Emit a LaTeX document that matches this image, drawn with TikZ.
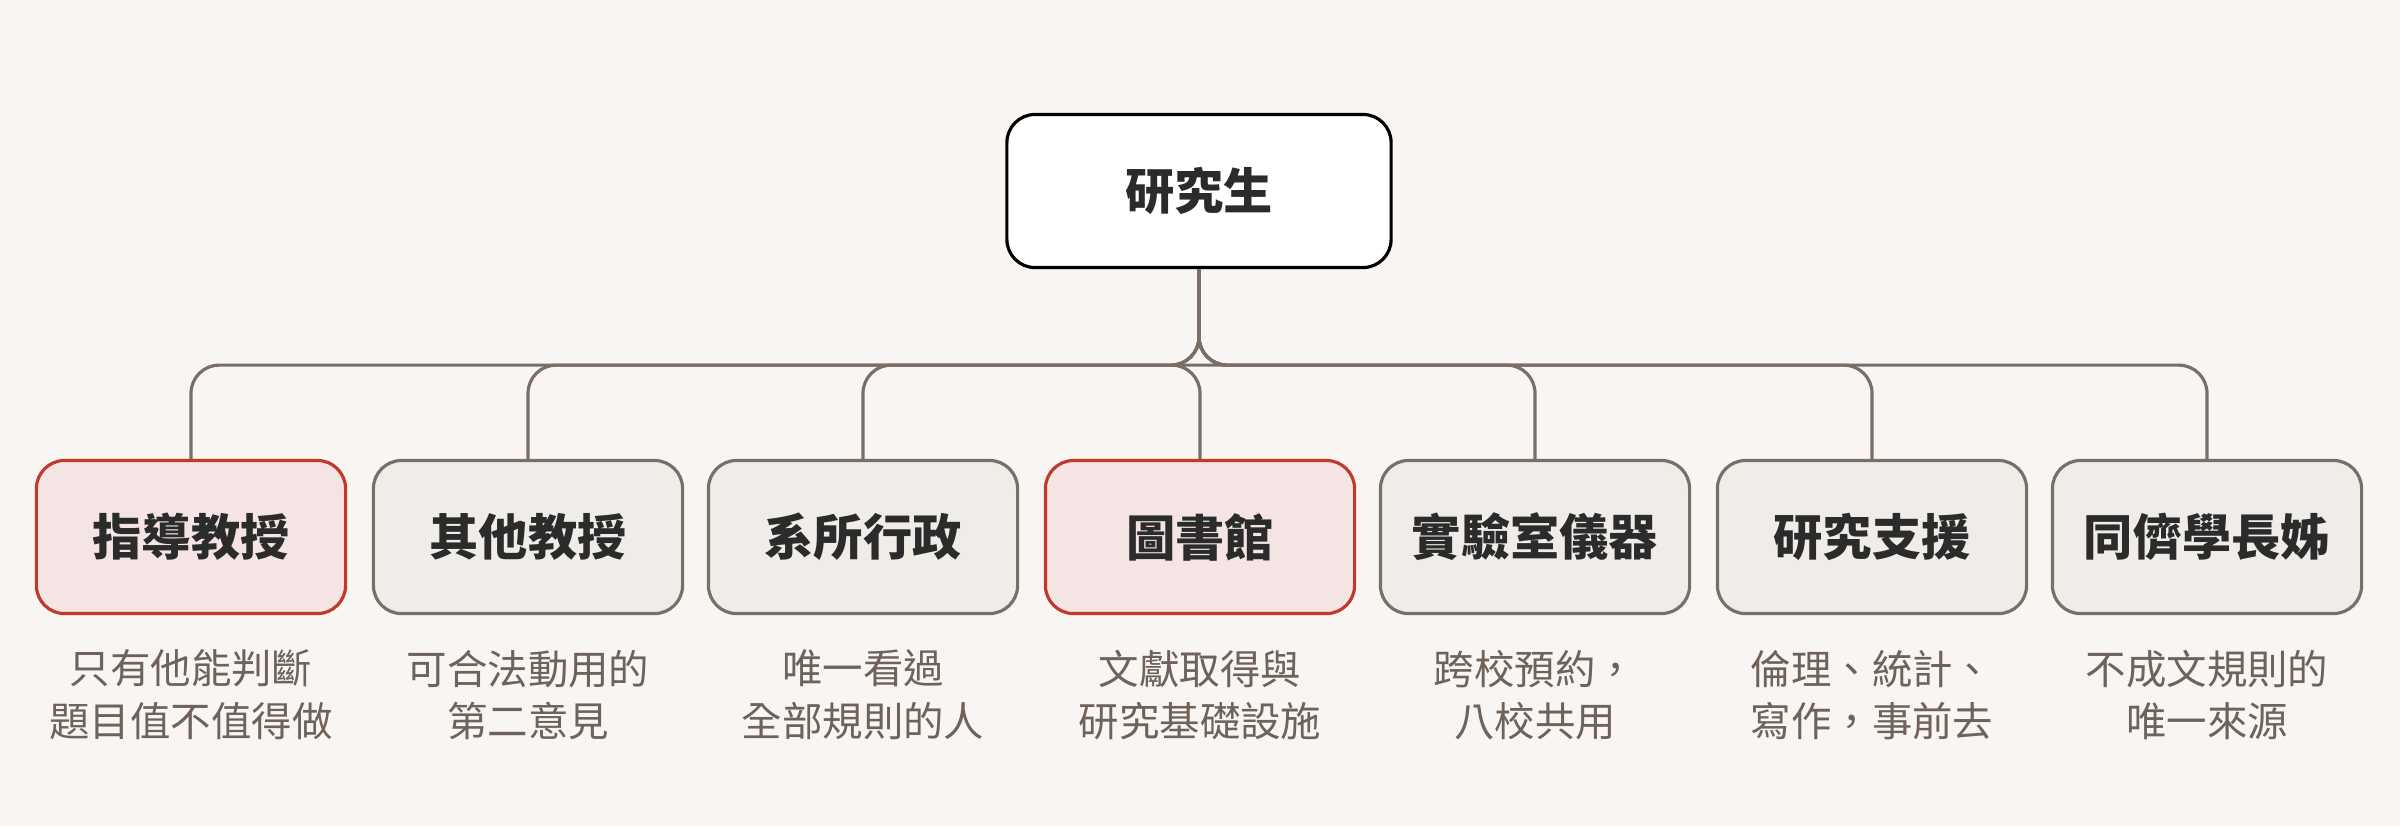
\documentclass[tikz,border=0pt]{standalone}
\usepackage{fontspec}
\setmainfont{Noto Sans CJK TC}
\usetikzlibrary{positioning}
\definecolor{bgcol}{HTML}{F8F5F2}
\definecolor{linecol}{HTML}{7A6E66}
\definecolor{grayfill}{HTML}{F0EDE8}
\definecolor{redline}{HTML}{C0392B}
\definecolor{redfill}{HTML}{F5E4E4}
\definecolor{capcol}{HTML}{6E625A}
\definecolor{txtcol}{HTML}{2B2B2B}
\begin{document}
\begin{tikzpicture}[
            x = 0.01cm, y = -0.01cm, % pixel units
            every node/.style = {inner sep = 0pt},
            box/.style = {
                draw = linecol,
                line width = 0.9pt,
                fill = grayfill,
                rounded corners = 8pt,
                minimum width = 3.09cm,
                minimum height = 1.53cm,
                text = txtcol,
                font = \fontsize{14pt}{16pt}\selectfont\bfseries
            },
            keybox/.style = {box, draw = redline, fill = redfill},
            rootbox/.style = {box, draw = black, fill = white, minimum width = 3.84cm},
            caption/.style = {
                text = capcol,
                align = center,
                font = \fontsize{11.5pt}{15pt}\selectfont
            },
            link/.style = {draw = linecol, line width = 0.9pt, rounded corners = 8pt}
        ]

        \fill[bgcol] (0,0) rectangle (2400,826);

        \node[rootbox] (root) at (1199,191) {研究生};

        \node[keybox] (advisor) at (191,537) {指導教授};
        \node[box] (others) at (528,537) {其他教授};
        \node[box] (office) at (863,537) {系所行政};
        \node[keybox] (library) at (1200,537) {圖書館};
        \node[box] (lab) at (1535,537) {實驗室儀器};
        \node[box] (support) at (1872,537) {研究支援};
        \node[box] (peers) at (2207,537) {同儕學長姊};

        \node[caption] (c1) [below=0.34cm of advisor] {只有他能判斷\\題目值不值得做};
        \node[caption] (c2) [below=0.34cm of others] {可合法動用的\\第二意見};
        \node[caption] (c3) [below=0.34cm of office] {唯一看過\\全部規則的人};
        \node[caption] (c4) [below=0.34cm of library] {文獻取得與\\研究基礎設施};
        \node[caption] (c5) [below=0.34cm of lab] {跨校預約，\\八校共用};
        \node[caption] (c6) [below=0.34cm of support] {倫理、統計、\\寫作，事前去};
        \node[caption] (c7) [below=0.34cm of peers] {不成文規則的\\唯一來源};

        \foreach \child in {advisor, others, office, library, lab, support, peers}
            \draw[link] (root.south) -- ++(0,96) -| (\child.north);

    \end{tikzpicture}
\end{document}
